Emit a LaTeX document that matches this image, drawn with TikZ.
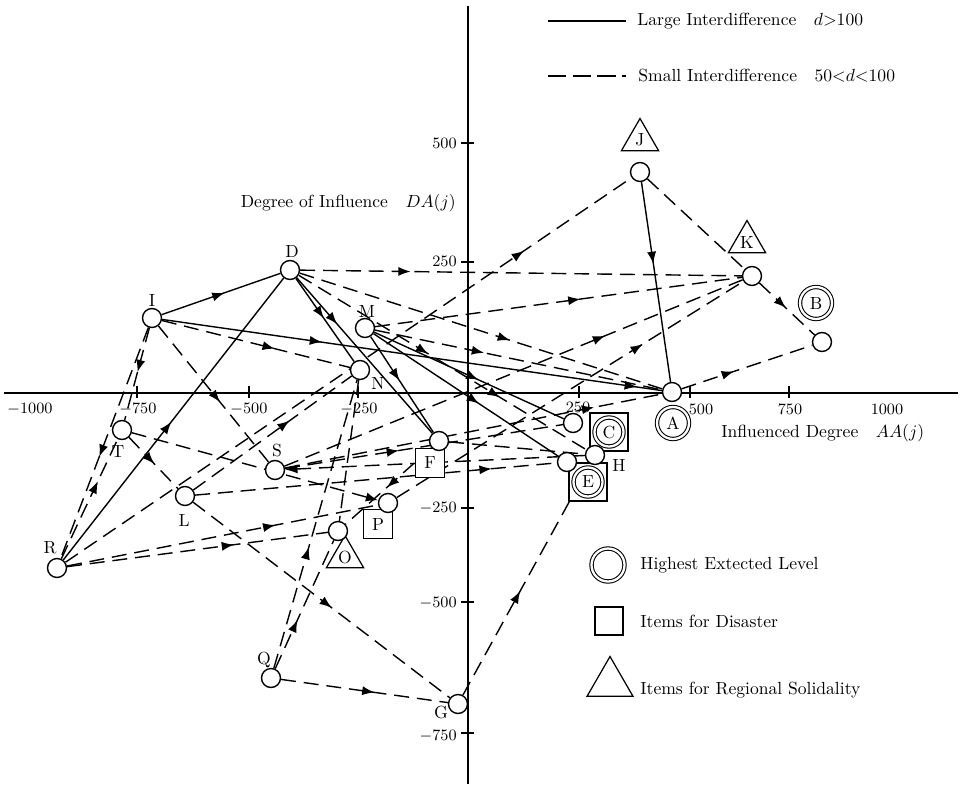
\documentclass[tikz,border=0pt]{standalone}
\usetikzlibrary{arrows.meta,decorations.markings,shapes.geometric}
\pgfdeclarelayer{bg}
\pgfsetlayers{bg,main}
\tikzset{
  pt/.style={circle,draw,fill=white,minimum size=0.38cm,inner sep=0pt,line width=0.8pt},
  lab/.style={inner sep=0pt,font=\normalsize},
  tri/.style={regular polygon,regular polygon sides=3,draw,fill=white,minimum size=0.86cm,inner sep=0pt,line width=0.7pt},
  sq/.style={rectangle,draw,fill=white,inner sep=0pt,line width=0.7pt},
  dc/.style={circle,draw,double,double distance=1.3pt,fill=white,inner sep=0pt,minimum size=0.64cm,line width=0.6pt},
  sol/.style={line width=0.8pt},
  dsh/.style={line width=0.8pt,dash pattern=on 8.5pt off 4.5pt},
  ar/.style={postaction={decorate,decoration={markings,mark=at position #1 with {\arrow{Latex[length=7pt,width=5.2pt]}}}}},
  endarr/.style={-{Latex[length=7pt,width=5.2pt]}},
  axis/.style={line width=0.8pt},
  tk/.style={inner sep=0pt,font=\small}
}
\begin{document}
\begin{tikzpicture}[x=0.02cm,y=-0.02cm]
\useasboundingbox (0,0) rectangle (969,784);
% ---------- decorations (squares, triangles, double circles)
\node[tri] (tJ) at (640,140) {J};
\node[tri] (tK) at (747,242) {K};
\node[tri] (tO) at (345,557) {O};
\node[sq,minimum size=0.58cm] (sqF) at (430,463) {F};
\node[sq,minimum size=0.58cm] (sqP) at (378,524) {P};
\node[sq,minimum size=0.76cm] (sqC) at (609,432) {};
\node[sq,minimum size=0.76cm] (sqE) at (588,482) {};
\node[dc] (dcA) at (673,423) {A};
\node[dc] (dcB) at (816,303) {B};
\node[dc,minimum size=0.58cm] (dcC) at (609,432) {C};
\node[dc,minimum size=0.58cm] (dcE) at (588,482) {E};
% ---------- point nodes
\node[pt] (J) at (640,172) {};
\node[pt] (K) at (752,276) {};
\node[pt] (B) at (822,342) {};
\node[pt] (A) at (672,392) {};
\node[pt] (D) at (290,270) {};
\node[pt] (I) at (152,318) {};
\node[pt] (M) at (365,328) {};
\node[pt] (N) at (360,370) {};
\node[pt] (T) at (122,430) {};
\node[pt] (S) at (275,470) {};
\node[pt] (L) at (185,496) {};
\node[pt] (F) at (439,441) {};
\node[pt] (P) at (388,503) {};
\node[pt] (O) at (338,531) {};
\node[pt] (R) at (57,568) {};
\node[pt] (Q) at (271,678) {};
\node[pt] (G) at (458,704) {};
\node[pt] (C) at (573,423) {};
\node[pt] (H) at (595,455) {};
\node[pt] (E) at (567,462) {};
% ---------- letter labels
\node[lab] (lD) at (292,251) {D};
\node[lab] (lI) at (152,300) {I};
\node[lab] (lM) at (367,311) {M};
\node[lab] (lN) at (378,383) {N};
\node[lab] (lT) at (118,452) {T};
\node[lab] (lS) at (277,450) {S};
\node[lab] (lL) at (184,520) {L};
\node[lab] (lR) at (50,548) {R};
\node[lab] (lQ) at (264,660) {Q};
\node[lab] (lG) at (441,712) {G};
\node[lab] (lH) at (619,465) {H};
% ---------- axes
\begin{pgfonlayer}{bg}
\coordinate (xl) at (4,393);
\coordinate (xr) at (958,393);
\coordinate (yt) at (468,6);
\coordinate (yb) at (468,784);
\draw[axis] (xl) -- (xr);
\draw[axis] (yt) -- (yb);
\foreach \xx in {137,249,358,579,690,789}{
  \draw[line width=0.7pt] (\xx,386) -- (\xx,398);
}
\foreach \yy in {143,262,508,602,733}{
  \draw[line width=0.7pt] (461,\yy) -- (474,\yy);
}
\end{pgfonlayer}
\node[tk] (xm1000) at (30,409) {$-1000$};
\node[tk] (xm750) at (138,409) {$-750$};
\node[tk] (xm500) at (249,409) {$-500$};
\node[tk] (xm250) at (359,409) {$-250$};
\node[tk] (xp250) at (578,407) {$250$};
\node[tk] (xp500) at (701,409) {$500$};
\node[tk] (xp750) at (790,409) {$750$};
\node[tk] (xp1000) at (887,409) {$1000$};
\node[tk,anchor=east] (y500) at (457,143) {$500$};
\node[tk,anchor=east] (y250) at (457,261) {$250$};
\node[tk,anchor=east] (ym250) at (457,508) {$-250$};
\node[tk,anchor=east] (ym500) at (457,603) {$-500$};
\node[tk,anchor=east] (ym750) at (457,736) {$-750$};
\node[inner sep=0pt,anchor=east] (ylab) at (456,203) {Degree of Influence\quad $DA(j)$};
\node[inner sep=0pt,anchor=west] (xlab) at (721,433) {Influenced Degree\quad $AA(j)$};
% ---------- legend
\coordinate (l1a) at (548,21);
\coordinate (l1b) at (626,21);
\coordinate (l2a) at (548,76);
\coordinate (l2b) at (626,76);
\draw[sol] (l1a) -- (l1b);
\draw[line width=0.8pt,dash pattern=on 10.5pt off 3.5pt] (l2a) -- (l2b);
\node[inner sep=0pt,anchor=west] (leg1) at (637,21) {Large Interdifference\quad $d{>}100$};
\node[inner sep=0pt,anchor=west] (leg2) at (638,76) {Small Interdifference\quad $50{<}d{<}100$};
\node[dc,minimum size=0.66cm] (legdc) at (608,565) {};
\node[sq,minimum size=0.56cm] (legsq) at (609,621) {};
\node[tri,minimum size=1.06cm] (legtri) at (610,683) {};
\node[inner sep=0pt,anchor=west] (leg3) at (640,565) {Highest Extected Level};
\node[inner sep=0pt,anchor=west] (leg4) at (640,621) {Items for Disaster};
\node[inner sep=0pt,anchor=west] (leg5) at (640,690) {Items for Regional Solidality};
% ---------- connectors
\begin{pgfonlayer}{bg}
% solid: large interdifference
\draw[sol,ar=0.53] (I) -- (D);
\draw[sol,ar=0.32,ar=0.95] (I) -- (A);
\draw[sol,ar=0.49] (R) -- (D);
\draw[sol,ar=0.48] (D) -- (N);
\draw[sol,ar=0.30] (D) -- (F);
\draw[sol,ar=0.46] (M) -- (F);
\draw[sol,ar=0.55] (M) -- (C);
\draw[sol,ar=0.57] (M) -- (E);
\draw[sol,ar=0.41] (J) -- (A);
% dashed: small interdifference
\draw[dsh,ar=0.6] (I) -- (N);
\draw[dsh,ar=0.56] (I) -- (S);
\draw[dsh,ar=0.48] (I) -- (T);
\draw[dsh,ar=0.56] (I) -- (R);
\draw[dsh,ar=0.65] (R) -- (T);
\draw[dsh,ar=0.81] (R) -- (J);
\draw[dsh,ar=0.64] (R) -- (O);
\draw[dsh,ar=0.67] (R) -- (P);
\draw[dsh,ar=0.52] (T) -- (L);
\draw[dsh,endarr] (T) -- (P);
\draw[dsh,ar=0.61] (L) -- (N);
\draw[dsh,ar=0.54] (L) -- (G);
\draw[dsh,ar=0.82] (L) -- (E);
\draw[dsh,ar=0.42] (Q) -- (N);
\draw[dsh,ar=0.38] (Q) -- (O);
\draw[dsh,ar=0.56] (Q) -- (G);
\draw[dsh,ar=0.45] (G) -- (H);
\draw[dsh] (N) -- (O);
\draw[dsh,ar=0.25] (D) -- (K);
\draw[dsh,ar=0.58] (D) -- (A);
\draw[dsh,ar=0.45,ar=0.70] (D) -- (H);
\draw[dsh,ar=0.56] (M) -- (K);
\draw[dsh,ar=0.38] (M) -- (A);
\draw[dsh,ar=0.70] (S) -- (K);
\draw[dsh,ar=0.82] (S) -- (A);
\draw[dsh,ar=0.4] (A) -- (B);
\draw[dsh,ar=0.41] (S) -- (C);
\draw[dsh,endarr] (H) -- (S);
\draw[dsh,ar=0.52] (F) -- (O);
\draw[dsh] (F) -- (H);
\draw[dsh,ar=0.71] (P) -- (K);
\draw[dsh] (J) -- (K);
\draw[dsh,ar=0.48] (K) -- (B);
\end{pgfonlayer}
\end{tikzpicture}
\end{document}
